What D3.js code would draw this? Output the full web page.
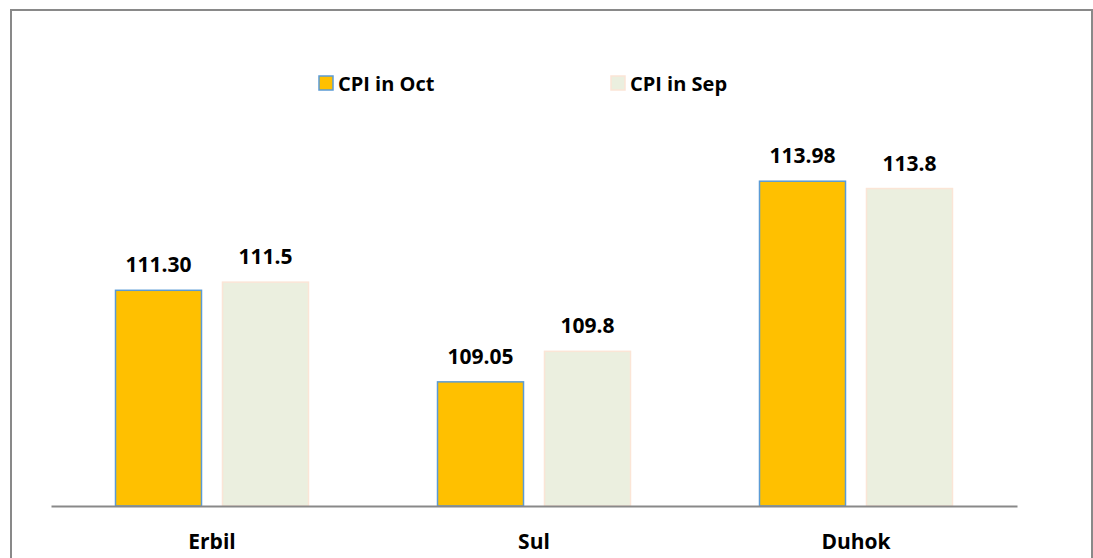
<!DOCTYPE html>
<meta charset="utf-8">
<title>CPI Oct vs Sep</title>
<style>
  body { margin: 0; background: #fff; }
  text { font-family: "Open Sans", sans-serif; font-weight: bold; fill: #000; }
</style>
<svg width="1093" height="558"></svg>
<script src="https://cdn.jsdelivr.net/npm/d3@7"></script>
<script>

// data
var regions = ["Erbil", "Sul", "Duhok"];
var series = ["CPI in Oct", "CPI in Sep"];
var cpiOct = [111.30, 109.05, 113.98];
var cpiSep = [111.5, 109.8, 113.8];
var octLabels = ["111.30", "109.05", "113.98"];
var sepLabels = ["111.5", "109.8", "113.8"];

var fills = ["#FFC000", "#EBEFDF"];
var strokes = ["#5B9BD5", "#FBE5D6"];

var svg = d3.select("svg");

// outer frame
svg.append("rect")
    .attr("x", 11).attr("y", 10)
    .attr("width", 1081).attr("height", 600)
    .attr("fill", "none")
    .attr("stroke", "#898989")
    .attr("stroke-width", 2);

var x0 = d3.scaleBand().domain(regions).range([51, 1017]);
var x1 = d3.scaleBand().domain(series).range([0, 193]).paddingInner(0.196);

var y = d3.scaleLinear().domain([106, 116]).range([506, 99]);

var rows = regions.map(function(r, i) {
  return [
    { region: r, s: 0, v: cpiOct[i], label: octLabels[i] },
    { region: r, s: 1, v: cpiSep[i], label: sepLabels[i] }
  ];
});

var groups = svg.append("g")
  .selectAll("g")
  .data(rows)
  .enter().append("g")
    .attr("transform", function(d) {
      return "translate(" + (x0(d[0].region) + x0.bandwidth() / 2 - 96.5) + ",0)";
    });

groups.selectAll("rect")
  .data(function(d) { return d; })
  .enter().append("rect")
    .attr("x", function(d) { return x1(series[d.s]); })
    .attr("y", function(d) { return y(d.v); })
    .attr("width", x1.bandwidth())
    .attr("height", function(d) { return y(106) - y(d.v); })
    .attr("fill", function(d) { return fills[d.s]; })
    .attr("stroke", function(d) { return strokes[d.s]; })
    .attr("stroke-width", 1.5);

groups.selectAll("text")
  .data(function(d) { return d; })
  .enter().append("text")
    .attr("x", function(d) { return x1(series[d.s]) + x1.bandwidth() / 2; })
    .attr("y", function(d) { return y(d.v) - 18; })
    .attr("text-anchor", "middle")
    .style("font-size", "21px")
    .text(function(d) { return d.label; });

// category axis
var axis = svg.append("g")
    .attr("transform", "translate(0,506)")
    .call(d3.axisBottom(x0).tickSize(0).tickPadding(28));
axis.select(".domain").attr("stroke", "#898989").attr("stroke-width", 2);
axis.selectAll("text")
    .style("font-size", "21px")
    .style("font-family", "'Open Sans', sans-serif")
    .style("font-weight", "bold")
    .attr("fill", "#000");

// legend
var legendX = [319, 611];
var legend = svg.append("g")
  .selectAll("g")
  .data(series)
  .enter().append("g")
    .attr("transform", function(d, i) { return "translate(" + legendX[i] + ",76)"; });

legend.append("rect")
    .attr("width", 14).attr("height", 14)
    .attr("fill", function(d, i) { return fills[i]; })
    .attr("stroke", function(d, i) { return strokes[i]; })
    .attr("stroke-width", 1.5);

legend.append("text")
    .attr("x", 19).attr("y", 15)
    .style("font-size", "20px")
    .text(function(d) { return d; });

</script>
